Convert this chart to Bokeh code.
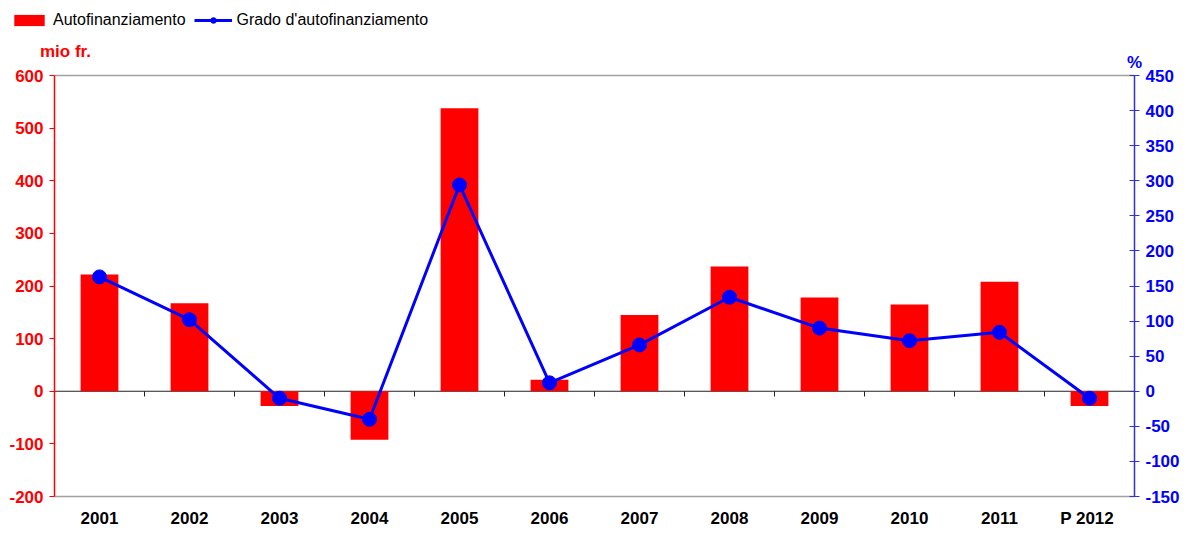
from bokeh.plotting import figure
from bokeh.models import (Range1d, LinearAxis, FixedTicker, Label, Legend, LegendItem, ColumnDataSource)
from bokeh.embed import file_html
from bokeh.resources import INLINE

# ---- data ----
categories = ["2001", "2002", "2003", "2004", "2005", "2006", "2007", "2008", "2009", "2010", "2011", "P  2012"]
autofinanziamento = [222, 167, -28, -92, 538, 22, 145, 237, 178, 165, 208, -28]          # mio fr.
grado = [163, 102, -10, -40, 294, 12, 66, 134, 90, 72, 84, -10]                           # %
left_ticks = [-200, -100, 0, 100, 200, 300, 400, 500, 600]
right_ticks = [-150, -100, -50, 0, 50, 100, 150, 200, 250, 300, 350, 400, 450]

FONT = "Liberation Sans"
RED = "#ff0000"
BLUE = "#0000ff"
AXBLUE = "#3333cc"

# ---- layout (pixels) ----
W, H = 1184, 527
PX_L, PX_R, PX_T, PX_B = 54, 1134, 75, 496   # plot box inside the canvas

n = len(categories)
xs = list(range(1, n + 1))
x_lo, x_hi = 0.5, n + 0.5
y_lo, y_hi = left_ticks[0], left_ticks[-1]
r_lo, r_hi = right_ticks[0], right_ticks[-1]

kx = (PX_R - PX_L) / (x_hi - x_lo)
ky = (PX_B - PX_T) / (y_hi - y_lo)
kr = (PX_B - PX_T) / (r_hi - r_lo)

x_range = Range1d(x_lo - PX_L / kx, x_hi + (W - PX_R) / kx)
y_range = Range1d(y_lo - (H - PX_B) / ky, y_hi + PX_T / ky)
r_range = Range1d(r_lo - (H - PX_B) / kr, r_hi + PX_T / kr)

src = ColumnDataSource(dict(x=xs, bar=autofinanziamento, pct=grado))

p = figure(width=W, height=H, output_backend="svg", toolbar_location=None,
           x_range=x_range, y_range=y_range, min_border=0,
           x_axis_location=None, y_axis_location=None)
p.extra_y_ranges = {"pct": r_range}
p.xgrid.visible = False
p.ygrid.visible = False
p.outline_line_color = None
p.background_fill_color = "white"
p.border_fill_color = "white"
p.title.visible = False

# top / bottom border lines of the plot box, zero line
p.segment(x0=[x_lo, x_lo], y0=[y_hi, y_lo], x1=[x_hi, x_hi], y1=[y_hi, y_lo],
          line_color="#a0a0a0", line_width=1.5)
p.segment(x0=[x_lo], y0=[0], x1=[x_hi], y1=[0], line_color="#222222", line_width=1)
bounds = [x + 0.5 for x in xs[:-1]]
p.segment(x0=bounds, y0=[0] * len(bounds), x1=bounds, y1=[-10] * len(bounds),
          line_color="#222222", line_width=1)

# bars
bars = p.vbar(x="x", top="bar", bottom=0, width=0.42, source=src,
              fill_color=RED, line_color=None)

# line with markers
ln = p.line(x="x", y="pct", source=src, y_range_name="pct", line_color=BLUE, line_width=3)
pts = p.scatter(x="x", y="pct", source=src, y_range_name="pct", size=14,
                fill_color=BLUE, line_color=BLUE)

# bottom axis: category labels
xa = LinearAxis(fixed_location=y_lo, ticker=FixedTicker(ticks=xs))
xa.major_label_overrides = {x: c for x, c in zip(xs, categories)}
xa.major_tick_line_color = None
xa.minor_tick_line_color = None
xa.axis_line_color = None
xa.major_label_text_font = FONT
xa.major_label_text_font_style = "bold"
xa.major_label_text_font_size = "17px"
xa.major_label_text_color = "black"
xa.major_label_standoff = 6
p.add_layout(xa, "below")

# left axis
ya = LinearAxis(fixed_location=x_lo, bounds=(y_lo, y_hi), ticker=FixedTicker(ticks=left_ticks))
ya.major_label_overrides = {t: str(t) for t in left_ticks}
ya.axis_line_color = RED
ya.axis_line_width = 1.5
ya.major_tick_line_color = RED
ya.major_tick_in = 0
ya.major_tick_out = 5
ya.minor_tick_line_color = None
ya.major_label_text_color = RED
ya.major_label_text_font = FONT
ya.major_label_text_font_style = "bold"
ya.major_label_text_font_size = "17px"
ya.major_label_standoff = 6
p.add_layout(ya, "left")

# right axis
ra = LinearAxis(y_range_name="pct", fixed_location=x_hi, bounds=(r_lo, r_hi),
                ticker=FixedTicker(ticks=right_ticks))
ra.major_label_overrides = {t: str(t) for t in right_ticks}
ra.axis_line_color = AXBLUE
ra.axis_line_width = 1.5
ra.major_tick_line_color = AXBLUE
ra.major_tick_in = 5
ra.major_tick_out = 5
ra.minor_tick_line_color = None
ra.major_label_text_color = BLUE
ra.major_label_text_font = FONT
ra.major_label_text_font_style = "bold"
ra.major_label_text_font_size = "17px"
ra.major_label_standoff = 6
p.add_layout(ra, "right")

# unit labels (screen units, from the bottom-left corner)
p.add_layout(Label(x=65, y=H - 51, x_units="screen", y_units="screen", text="mio fr.",
                   text_align="center", text_baseline="middle", text_color=RED,
                   text_font=FONT, text_font_style="bold", text_font_size="17px"))
p.add_layout(Label(x=PX_R, y=H - 62, x_units="screen", y_units="screen", text="%",
                   text_align="center", text_baseline="middle", text_color=BLUE,
                   text_font=FONT, text_font_style="bold", text_font_size="17px"))

# legend
legend = Legend(items=[LegendItem(label="Autofinanziamento", renderers=[bars]),
                       LegendItem(label="Grado d'autofinanziamento", renderers=[ln, pts])],
                orientation="horizontal", location="top_left",
                padding=0, margin=10, spacing=8, label_standoff=5,
                glyph_width=38, glyph_height=14, label_height=20,
                label_text_font=FONT, label_text_font_size="16px", label_text_color="black",
                background_fill_alpha=0, border_line_color=None)
p.add_layout(legend)

open("out.html", "w").write(file_html(p, INLINE))
